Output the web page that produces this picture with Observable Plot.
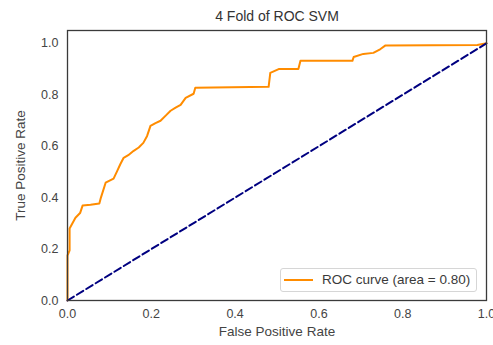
<!DOCTYPE html>
<html>
<head>
<meta charset="utf-8">
<script src="https://cdn.jsdelivr.net/npm/d3@7"></script>
<script src="https://cdn.jsdelivr.net/npm/@observablehq/plot@0.6"></script>
<style>
  html, body { margin: 0; padding: 0; background: #fff; }
  #wrap { position: relative; width: 493px; height: 345px; font-family: "Liberation Sans", Arial, sans-serif; }
  #legend {
    position: absolute; left: 280px; top: 268px; width: 197px; height: 24px;
    border: 1px solid #d6d6d6; border-radius: 3px; background: rgba(255,255,255,0.85);
    box-sizing: border-box;
  }
  #legend .swatch { position: absolute; left: 3px; top: 10px; width: 29px; height: 0; border-top: 2px solid darkorange; }
  #legend .lbl { position: absolute; left: 41px; top: 3px; font-size: 13.5px; color: #3a3a3a; white-space: nowrap; }
</style>
</head>
<body>
<div id="wrap"></div>
<script>
// ROC curve vertices for fold 4 of the SVM classifier
const fpr = [0, 0, 0.005, 0.005, 0.019, 0.03, 0.036, 0.055, 0.076, 0.079, 0.091, 0.11, 0.119, 0.126, 0.134, 0.145, 0.158, 0.17, 0.181, 0.19, 0.198, 0.21, 0.222, 0.235, 0.246, 0.258, 0.27, 0.282, 0.301, 0.305, 0.48, 0.484, 0.504, 0.551, 0.556, 0.68, 0.683, 0.706, 0.73, 0.747, 0.759, 0.978, 1.0];
const tpr = [0, 0.175, 0.195, 0.28, 0.322, 0.34, 0.369, 0.372, 0.377, 0.396, 0.458, 0.474, 0.505, 0.53, 0.555, 0.565, 0.582, 0.595, 0.613, 0.64, 0.679, 0.69, 0.699, 0.72, 0.738, 0.75, 0.761, 0.788, 0.804, 0.827, 0.831, 0.885, 0.90, 0.90, 0.932, 0.932, 0.947, 0.959, 0.963, 0.978, 0.992, 0.994, 1.0];
const rocArea = 0.80;

// chance diagonal
const chanceX = [0, 1];
const chanceY = [0, 1];

const tickValues = [0, 0.2, 0.4, 0.6, 0.8, 1.0];
const titleText = "4 Fold of ROC SVM";
const xLabel = "False Positive Rate";
const yLabel = "True Positive Rate";

const roc = fpr.map((x, i) => ({x, y: tpr[i]}));
const chance = chanceX.map((x, i) => ({x, y: chanceY[i]}));

const chart = Plot.plot({
  width: 493,
  height: 345,
  marginLeft: 67,
  marginRight: 7,
  marginTop: 30,
  marginBottom: 45,
  style: { fontFamily: "'Liberation Sans', Arial, sans-serif", fontSize: "12.5px", color: "#444", background: "white" },
  x: {
    domain: [0, 1], ticks: tickValues, tickFormat: d3.format(".1f"), tickSize: 0, tickPadding: 9,
    label: xLabel, labelAnchor: "center", labelOffset: 35, labelArrow: "none"
  },
  y: {
    domain: [0, 1.05], ticks: tickValues, tickFormat: d3.format(".1f"), tickSize: 0, tickPadding: 9,
    label: yLabel, labelAnchor: "center", labelOffset: 52, labelArrow: "none"
  },
  marks: [
    Plot.line(roc, {x: "x", y: "y", stroke: "darkorange", strokeWidth: 2}),
    Plot.line(chance, {x: "x", y: "y", stroke: "navy", strokeWidth: 2, strokeDasharray: "7.5,3.5"}),
    Plot.frame({stroke: "#3a3a3a", strokeWidth: 1.3}),
    Plot.text([titleText], {frameAnchor: "top", dy: -10, lineAnchor: "bottom", fontSize: 14, fill: "#333"})
  ]
});

// axis titles: larger type, plain text without direction arrows
chart.querySelectorAll("[aria-label='x-axis label'] text, [aria-label='y-axis label'] text").forEach(t => {
  t.setAttribute("font-size", "13.5");
  t.textContent = t.textContent.replace(/\s*[↑↓←→]\s*/g, "");
});

const wrap = document.getElementById("wrap");
wrap.appendChild(chart);

const legend = document.createElement("div");
legend.id = "legend";
legend.innerHTML = `<div class="swatch"></div><div class="lbl">ROC curve (area = ${rocArea.toFixed(2)})</div>`;
wrap.appendChild(legend);
</script>
</body>
</html>
